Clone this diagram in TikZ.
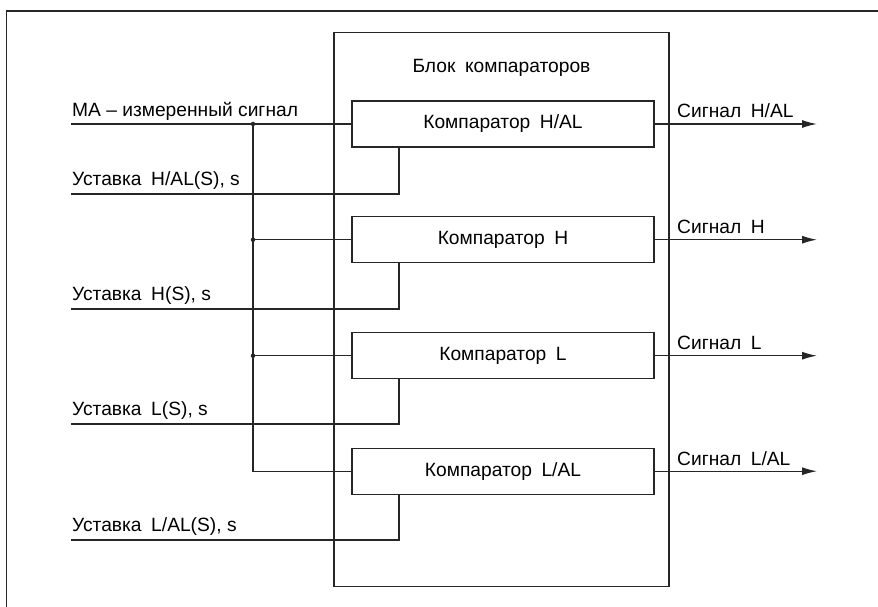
\documentclass[tikz,border=0pt]{standalone}
\usepackage{fontspec}
\setmainfont{Liberation Sans}
\usetikzlibrary{arrows.meta}
\begin{document}
\begin{tikzpicture}[x=1pt,y=-1pt,
  ln/.style={draw=black!85, line width=1.3pt},
  comp/.style={ln, minimum width=302pt, minimum height=46pt, inner sep=0pt, font=\fontsize{19.2}{21}\selectfont},
  lbl/.style={anchor=base west, inner sep=0pt, font=\fontsize{19.2}{21}\selectfont},
  arr/.style={ln, -{Latex[length=15pt,width=8pt]}},
  dot/.style={circle, fill=black!85, inner sep=0pt, minimum size=4.5pt}]
\useasboundingbox (0,0) rectangle (878,607);
\fill[white] (0,0) rectangle (878,607);
% outer frame (partially visible)
\draw[ln] (6.5,620) -- (6.5,11) -- (890,11);
% main block
\node[ln, minimum width=335pt, minimum height=554pt, inner sep=0pt] (blk) at (501.5,309.7) {};
\node[inner sep=0pt, font=\fontsize{19.2}{21}\selectfont] (title) at (501.5,68) {Блок\hspace{0.5em}компараторов};
% comparators
\node[comp] (c1) at (503,124) {Компаратор\hspace{0.5em}H/AL};
\node[comp] (c2) at (503,239.7) {Компаратор\hspace{0.5em}H};
\node[comp] (c3) at (503,355.7) {Компаратор\hspace{0.5em}L};
\node[comp] (c4) at (503,471.2) {Компаратор\hspace{0.5em}L/AL};
% input line and bus
\coordinate (inA) at (71,124);
\coordinate (b1) at (253,124);
\coordinate (b2) at (253,239.7);
\coordinate (b3) at (253,355.7);
\coordinate (b4) at (253,471.2);
\draw[ln] (inA) -- (c1.west);
\draw[ln] (b1) -- (b4) -- (c4.west);
\draw[ln] (b2) -- (c2.west);
\draw[ln] (b3) -- (c3.west);
\node[dot] (d1) at (b1) {};
\node[dot] (d2) at (b2) {};
\node[dot] (d3) at (b3) {};
\node[lbl] (lma) at (72,117) {MA – измеренный сигнал};
% setpoints
\coordinate (s1) at (71,194);
\coordinate (s2) at (71,309);
\coordinate (s3) at (71,424);
\coordinate (s4) at (71,540);
\draw[ln] (s1) -- (399,194) -- (399,147);
\draw[ln] (s2) -- (399,309) -- (399,262.7);
\draw[ln] (s3) -- (399,424) -- (399,378.7);
\draw[ln] (s4) -- (399,540) -- (399,494.2);
\node[lbl] (ls1) at (72,185.5) {Уставка\hspace{0.5em}H/AL(S), s};
\node[lbl] (ls2) at (72,300.5) {Уставка\hspace{0.5em}H(S), s};
\node[lbl] (ls3) at (72,415.5) {Уставка\hspace{0.5em}L(S), s};
\node[lbl] (ls4) at (72,531.5) {Уставка\hspace{0.5em}L/AL(S), s};
% outputs
\coordinate (o1) at (817,124);
\coordinate (o2) at (817,239.7);
\coordinate (o3) at (817,355.7);
\coordinate (o4) at (817,471.2);
\draw[arr] (c1.east) -- (o1);
\draw[arr] (c2.east) -- (o2);
\draw[arr] (c3.east) -- (o3);
\draw[arr] (c4.east) -- (o4);
\node[lbl] (lo1) at (677,118) {Сигнал\hspace{0.5em}H/AL};
\node[lbl] (lo2) at (677,233.7) {Сигнал\hspace{0.5em}H};
\node[lbl] (lo3) at (677,349.7) {Сигнал\hspace{0.5em}L};
\node[lbl] (lo4) at (677,465.2) {Сигнал\hspace{0.5em}L/AL};
\end{tikzpicture}
\end{document}
